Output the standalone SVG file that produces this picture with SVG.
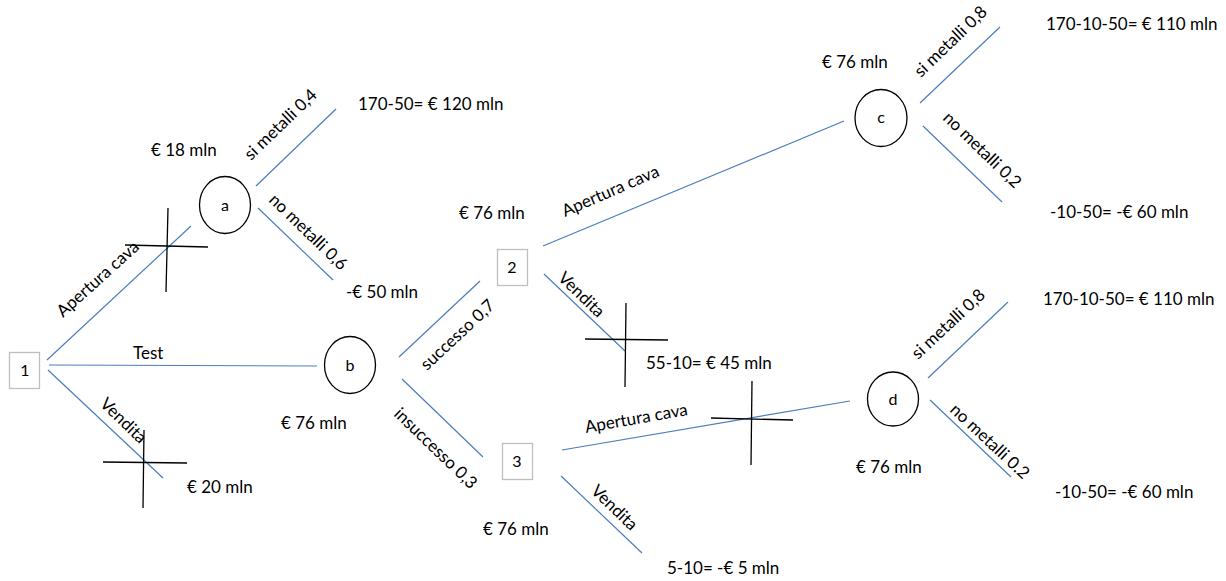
<svg xmlns="http://www.w3.org/2000/svg" width="1226" height="581" viewBox="0 0 1226 581">
<style>
.bg{fill:#ffffff}
.ln{stroke:#4a7ebb;stroke-width:1.2;fill:none}
.x{stroke:#000000;stroke-width:1.3;fill:none}
.ch{fill:#ffffff;stroke:#000000;stroke-width:1.3}
.bx{fill:#ffffff;stroke:#bfbfbf;stroke-width:1.3}
text{font-family:Lato,"Liberation Sans",sans-serif;fill:#000000}
.v{font-size:17px}
.l{font-size:17px}
.n{font-size:16px;text-anchor:middle}
</style>
<rect class="bg" x="0" y="0" width="1226" height="581"/>
<g id="connectors">
<line class="ln" x1="47" y1="360" x2="191" y2="226"/>
<line class="ln" x1="49" y1="365" x2="317" y2="366"/>
<line class="ln" x1="48" y1="370" x2="163" y2="478"/>
<line class="ln" x1="256" y1="186" x2="336" y2="109"/>
<line class="ln" x1="258" y1="208" x2="333" y2="280"/>
<line class="ln" x1="399" y1="357" x2="480" y2="281"/>
<line class="ln" x1="402" y1="379" x2="483" y2="457"/>
<line class="ln" x1="543" y1="246" x2="844" y2="121"/>
<line class="ln" x1="544" y1="274" x2="625" y2="351"/>
<line class="ln" x1="562" y1="450" x2="850" y2="401"/>
<line class="ln" x1="561" y1="476" x2="642" y2="553"/>
<line class="ln" x1="920" y1="103" x2="1000" y2="27"/>
<line class="ln" x1="923" y1="126" x2="1002" y2="202"/>
<line class="ln" x1="928" y1="378" x2="1008" y2="302"/>
<line class="ln" x1="930" y1="400" x2="1011" y2="477"/>
<text class="l" transform="translate(63,318) rotate(-42)">Apertura cava</text>
<text class="l" x="133" y="359">Test</text>
<text class="l" transform="translate(99,405) rotate(44)">Vendita</text>
<text class="l" transform="translate(251,161) rotate(-44)">si metalli 0,4</text>
<text class="l" transform="translate(268,201) rotate(44)">no metalli 0,6</text>
<text class="l" transform="translate(427,371) rotate(-43)">successo 0,7</text>
<text class="l" transform="translate(393,415) rotate(44)">insuccesso 0,3</text>
<text class="l" transform="translate(565,217) rotate(-23.5)">Apertura cava</text>
<text class="l" transform="translate(557,279) rotate(44)">Vendita</text>
<text class="l" transform="translate(586,433) rotate(-10)">Apertura cava</text>
<text class="l" transform="translate(590,492) rotate(44)">Vendita</text>
<text class="l" transform="translate(921,78) rotate(-44)">si metalli 0,8</text>
<text class="l" transform="translate(942,119) rotate(44)">no metalli 0,2</text>
<text class="l" transform="translate(918,360) rotate(-43)">si metalli 0,8</text>
<text class="l" transform="translate(949,411) rotate(43)">no metalli 0.2</text>
</g>
<g id="crosses">
<line class="x" x1="168" y1="208" x2="166" y2="292"/>
<line class="x" x1="125" y1="245" x2="208" y2="247"/>
<line class="x" x1="144" y1="430" x2="143" y2="508"/>
<line class="x" x1="103" y1="462" x2="187" y2="463"/>
<line class="x" x1="626" y1="303" x2="625" y2="387"/>
<line class="x" x1="585" y1="339" x2="668" y2="340"/>
<line class="x" x1="752" y1="381" x2="751" y2="465"/>
<line class="x" x1="711" y1="418" x2="793" y2="420"/>
</g>
<g id="node-1"><rect class="bx" x="9.5" y="352.5" width="30" height="36"/><text class="n" x="25" y="376">1</text></g>
<g id="node-a"><ellipse class="ch" cx="225" cy="205" rx="25.5" ry="28.5"/><text class="n" x="225" y="211">a</text><text class="v" x="151" y="156">€ 18 mln</text></g>
<g id="node-b"><ellipse class="ch" cx="350" cy="365" rx="25.5" ry="28.5"/><text class="n" x="350" y="371">b</text><text class="v" x="281" y="429">€ 76 mln</text></g>
<g id="node-2"><rect class="bx" x="497.5" y="249.5" width="30" height="36"/><text class="n" x="512" y="273">2</text><text class="v" x="459" y="219">€ 76 mln</text></g>
<g id="node-3"><rect class="bx" x="502.5" y="443.5" width="30" height="36"/><text class="n" x="517" y="467">3</text><text class="v" x="483" y="535">€ 76 mln</text></g>
<g id="node-c"><ellipse class="ch" cx="881" cy="118" rx="26" ry="28.5"/><text class="n" x="881" y="123">c</text><text class="v" x="822" y="68">€ 76 mln</text></g>
<g id="node-d"><ellipse class="ch" cx="893" cy="399" rx="25.5" ry="27"/><text class="n" x="893" y="405">d</text><text class="v" x="856" y="473">€ 76 mln</text></g>
<g id="outcomes">
<text class="v" x="358" y="110">170-50= € 120 mln</text>
<text class="v" x="346" y="298">-€ 50 mln</text>
<text class="v" x="187" y="493">€ 20 mln</text>
<text class="v" x="646" y="369">55-10= € 45 mln</text>
<text class="v" x="667" y="574">5-10= -€ 5 mln</text>
<text class="v" x="1046" y="30">170-10-50= € 110 mln</text>
<text class="v" x="1050" y="218">-10-50= -€ 60 mln</text>
<text class="v" x="1043" y="305">170-10-50= € 110 mln</text>
<text class="v" x="1055" y="498">-10-50= -€ 60 mln</text>
</g>
</svg>
